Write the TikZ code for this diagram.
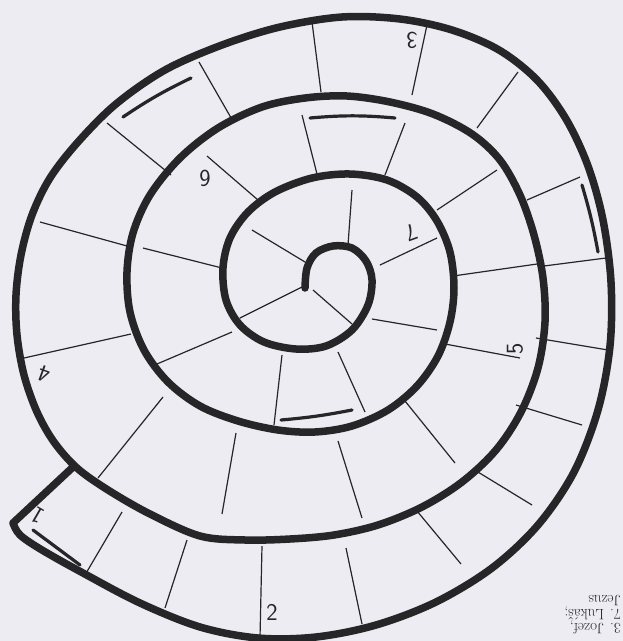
\documentclass[tikz,border=0pt]{standalone}
\usepackage{tikz}
\definecolor{pencil}{RGB}{38,38,40}
\definecolor{paper}{RGB}{236,236,242}

\begin{document}
\begin{tikzpicture}[x=1pt, y=-1pt,
    track/.style={pencil, line width=7.5pt, line cap=round, line join=round},
    divider/.style={pencil, line width=1.2pt},
    hilite/.style={pencil, line width=3.2pt, line cap=round},
    num/.style={pencil, inner sep=0pt, font=\sffamily\fontsize{24}{24}\selectfont},
    note/.style={pencil, inner sep=0pt, align=left, font=\fontsize{15}{14}\selectfont}]

    % paper
    \useasboundingbox (0,0) rectangle (623,641);
    \fill[paper] (0,0) rectangle (623,641);

    % cell dividers
    \foreach \xa/\ya/\xb/\yb in {
        252/230/305/262, 352/190/348/245, 380/265/437/238, 372/319/437/330,
        313/290/352/324, 302/287/240/318,
        143/248/222/268, 157/364/232/332, 274/425/282/355, 338/352/365/412,
        207/156/258/200, 302/115/317/174, 385/175/405/123, 437/210/497/170,
        453/276/544/263, 445/344/520/358, 405/401/455/463, 338/441/362/518,
        236/433/222/514, 163/397/98/478, 131/334/24/358, 127/246/40/222,
        171/175/107/123, 234/123/199/62,
        312/22/321/92, 427/25/412/95, 518/72/477/128, 580/177/527/200,
        606/258/544/266, 608/350/536/338, 582/425/516/405, 532/505/473/469,
        461/564/417/511, 362/624/346/548, 260/638/262/546, 165/608/187/540,
        85/575/122/512}
        \draw[divider] (\xa,\ya) -- (\xb,\yb);

    % spiral track
    \draw[track] plot[smooth, tension=0.55] coordinates {
        (305,288) (307,268) (316,253) (333,246) (352,248) (366,261) (372,280)
        (368,305) (352,330) (326,346) (296,349) (264,342) (240,325) (226,300)
        (223,268) (230,238) (248,212) (275,192) (312,178) (350,174) (387,180)
        (417,197) (437,221) (450,252) (454,288) (450,322) (438,356) (417,386)
        (388,410) (352,426) (315,432) (278,430) (238,421) (200,406) (168,382)
        (144,350) (130,312) (127,272) (133,233) (150,195) (180,158) (218,128)
        (262,107) (305,98) (347,96) (390,102) (433,114) (472,134) (500,160)
        (520,195) (534,235) (543,278) (545,322) (538,368) (521,412) (496,450)
        (462,482) (422,507) (378,525) (334,535) (290,539) (245,540) (200,536)
        (150,514) (108,490) (77,468) (54,442) (37,412) (24,375) (17,335)
        (16,295) (21,255) (32,215) (50,178) (78,142) (116,104) (165,70)
        (222,45) (280,27) (342,17) (400,19) (452,30) (499,50) (537,80)
        (566,119) (588,166) (603,220) (611,282) (610,346) (598,410) (574,472)
        (538,525) (492,568) (436,602) (376,625) (316,637) (258,638) (200,627)
        (140,603) (83,573) (42,550) (20,535) (13,523)}
        -- (72,468);

    % highlighted cells
    \draw[hilite] (123,117) to[bend left=4] (191,78);
    \draw[hilite] (310,118) to[bend left=5] (395,118);
    \draw[hilite] (582,185) to[bend left=3] (598,252);
    \draw[hilite] (281,420) to[bend right=3] (352,410);
    \draw[hilite] (33,530) -- (80,565);

    % cell numbers
    \node[num, rotate=150] (n1) at (38,516) {1};
    \node[num] (n2) at (272,612) {2};
    \node[num, rotate=180] (n3) at (412,40) {3};
    \node[num, rotate=160] (n4) at (44,374) {4};
    \node[num, rotate=90] (n5) at (515,349) {5};
    \node[num, rotate=180] (n6) at (205,178) {6};
    \node[num, rotate=200] (n7) at (411,233) {7};

    % text of the page, upside down
    \node[note, rotate=180, anchor=north west] (names) at (621,634)
        {3. Jozef,\\7. Lukáš;\\Jezus};

\end{tikzpicture}
\end{document}
